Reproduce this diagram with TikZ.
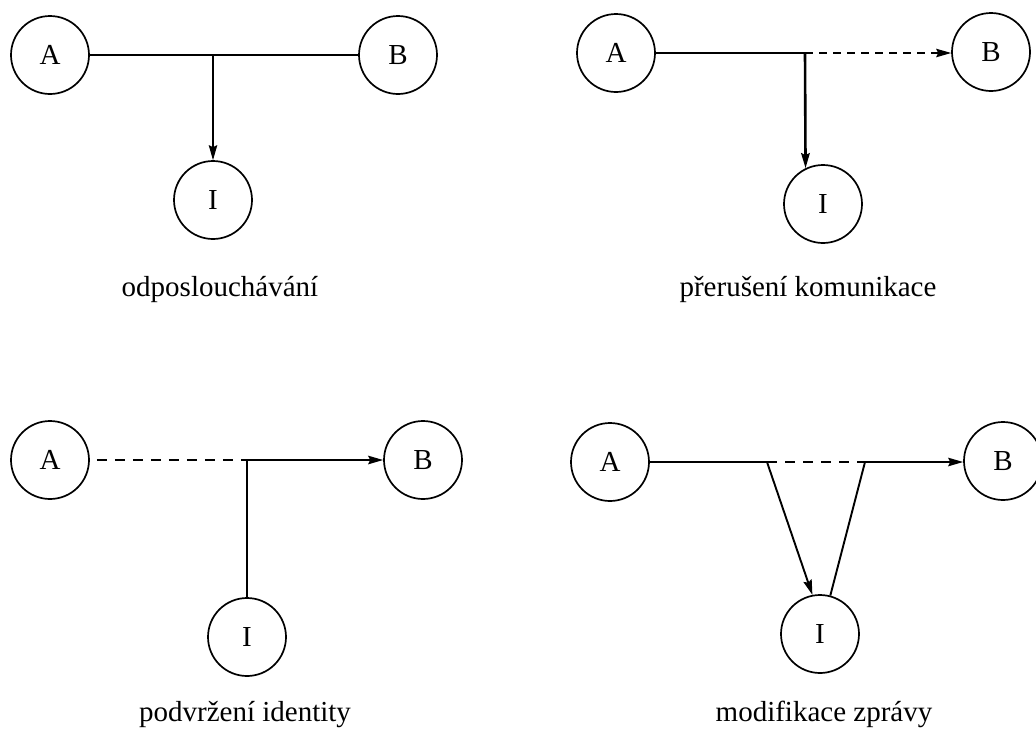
\documentclass[tikz,border=0pt]{standalone}
\usepackage{fontspec}
\setmainfont{Liberation Serif}
\usetikzlibrary{arrows.meta}
\begin{document}
\begin{tikzpicture}[x=1pt,y=-1pt,
  party/.style={draw,circle,minimum size=78pt,inner sep=0pt,line width=1.7pt,
    font=\fontsize{29}{34}\selectfont},
  caption/.style={anchor=base,font=\fontsize{29}{34}\selectfont},
  link/.style={line width=1.4pt},
  boldlink/.style={line width=1.9pt},
  heavylink/.style={line width=2.6pt},
  tip/.style={-{Stealth[length=15pt,width=8.5pt,inset=2pt]}},
  dashlink/.style={dash pattern=on 8pt off 6pt},
  dashlinkb/.style={dash pattern=on 10pt off 8pt}]
\useasboundingbox (0,0) rectangle (1036,729);

% eavesdropping
\node[party] (A1) at (50,55) {A};
\node[party] (B1) at (398,55) {B};
\node[party] (I1) at (213,200) {I};
\coordinate (j1) at (213,55);
\draw[link] (A1.east) -- (B1.west);
\draw[link,tip] (j1) -- (I1.north);
\node[caption] (L1) at (220,296) {odposlouchávání};

% interruption
\node[party] (A2) at (616,53) {A};
\node[party] (B2) at (991,52) {B};
\node[party] (I2) at (823,204) {I};
\coordinate (j2) at (805,53);
\draw[link] (A2.east) -- (j2);
\draw[link,dashlink,tip] (j2) -- (j2 -| B2.west);
\draw[heavylink,tip] (j2) -- (I2.116.7);
\node[caption] (L2) at (808,296) {přerušení komunikace};

% fabrication
\node[party] (A3) at (50,460) {A};
\node[party] (B3) at (423,460) {B};
\node[party] (I3) at (247,637) {I};
\coordinate (j3) at (247,460);
\draw[boldlink,dashlinkb] (A3.east) ++(7,0) -- (j3);
\draw[boldlink,tip] (j3) -- (B3.west);
\draw[boldlink] (I3.north) -- (j3);
\node[caption] (L3) at (245,721) {podvržení identity};

% modification
\node[party] (A4) at (610,462) {A};
\node[party] (B4) at (1003,461) {B};
\node[party] (I4) at (820,634) {I};
\coordinate (j4a) at (767,462);
\coordinate (j4b) at (865,462);
\draw[boldlink] (A4.east) -- (j4a);
\draw[boldlink,dashlinkb] (j4a) -- (j4b);
\draw[boldlink,tip] (j4b) -- (j4b -| B4.west);
\draw[boldlink,tip] (j4a) -- (I4.101.6);
\draw[boldlink] (I4.75.6) -- (j4b);
\node[caption] (L4) at (824,721) {modifikace zprávy};
\end{tikzpicture}
\end{document}
